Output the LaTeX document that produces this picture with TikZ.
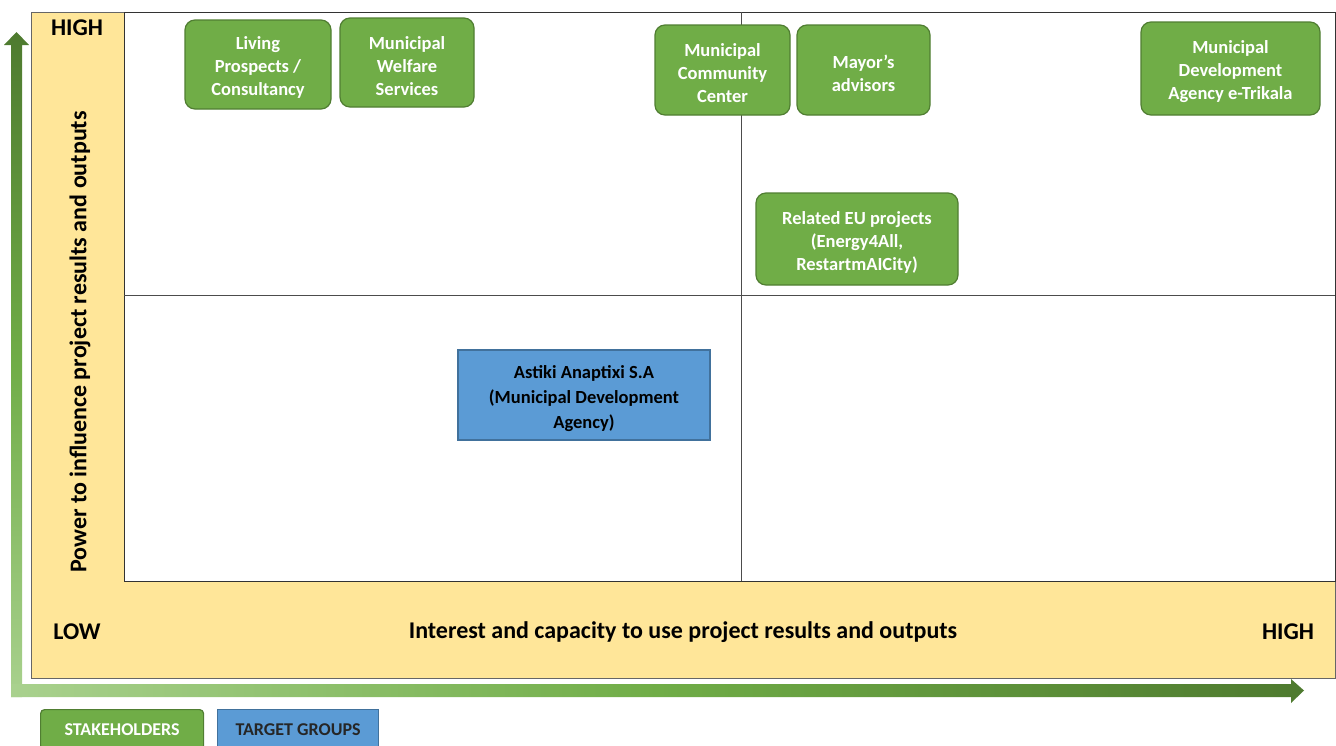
\documentclass[tikz,border=0pt]{standalone}
\usepackage{fontspec}
\setmainfont{Carlito}
\definecolor{panel}{HTML}{FFE699}
\definecolor{gfill}{HTML}{70AD47}
\definecolor{gdraw}{HTML}{507E32}
\definecolor{bfill}{HTML}{5B9BD5}
\definecolor{bdraw}{HTML}{41719C}
\definecolor{darkg}{HTML}{4E7A2F}
\definecolor{lightg}{HTML}{A9D18E}
\newcommand{\gtop}{\rule{0pt}{19.5pt}}
\newcommand{\btop}{\rule{0pt}{20pt}}
\begin{document}
\begin{tikzpicture}[x=1pt,y=-1pt,
  gbox/.style={draw=gdraw, line width=1.2pt, fill=gfill, rounded corners=10pt, text=white,
    font=\fontsize{18.5}{23}\selectfont\bfseries, align=center, inner sep=0pt},
  bbox/.style={draw=bdraw, line width=1.2pt, fill=bfill, text=black,
    font=\fontsize{18.5}{25}\selectfont\bfseries, align=center, inner sep=0pt},
  axlabel/.style={font=\fontsize{24}{26}\selectfont\bfseries, text=black},
  legend/.style={font=\fontsize{18}{20}\selectfont\bfseries, inner sep=0pt}]
\useasboundingbox (0,0) rectangle (1336,745);
% panel
\draw[draw=black!60, line width=1pt, fill=panel] (31,12) rectangle (1335,678);
\draw[draw=black!80, line width=0.8pt, fill=white] (124,12) rectangle (1335,581);
\draw[black!70, line width=0.8pt] (741,12) -- (741,581);
\draw[black!70, line width=0.8pt] (124,295) -- (1335,295);
% axes arrows
\shade[top color=darkg, bottom color=lightg, middle color=gfill]
  (11,697) -- (11,45) -- (4,45) -- (16.5,32) -- (29,45) -- (22,45) -- (22,697) -- cycle;
\shade[left color=lightg, right color=darkg, middle color=gfill]
  (11,684) -- (1291,684) -- (1291,679) -- (1304,690.5) -- (1291,703) -- (1291,697) -- (11,697) -- cycle;
% axis labels
\node[axlabel] (yhigh) at (77,28) {HIGH};
\node[axlabel] (ylow) at (77,632) {LOW};
\node[axlabel] (xhigh) at (1288,632) {HIGH};
\node[axlabel] (xlabel) at (683,632) {Interest and capacity to use project results and outputs};
\node[axlabel, rotate=90] (ylabel) at (80,342) {Power to influence project results and outputs};
% stakeholders
\node[gbox, minimum width=146pt, minimum height=89pt] (living) at (258,64.5) {\gtop Living\\Prospects /\\Consultancy};
\node[gbox, minimum width=134pt, minimum height=89pt] (welfare) at (407,62.5) {\gtop Municipal\\Welfare\\Services};
\node[gbox, minimum width=135pt, minimum height=90pt] (community) at (722.5,70) {\gtop Municipal\\Community\\Center};
\node[gbox, minimum width=133pt, minimum height=90pt] (mayor) at (863.5,70) {\gtop Mayor’s\\advisors};
\node[gbox, minimum width=179pt, minimum height=93pt] (etrikala) at (1230.5,68.5) {\gtop Municipal\\Development\\Agency e-Trikala};
\node[gbox, minimum width=202pt, minimum height=92pt] (eu) at (857,239) {\gtop Related EU projects\\(Energy4All,\\RestartmAICity)};
% target group
\node[bbox, minimum width=252pt, minimum height=90pt] (astiki) at (584,395) {\btop Astiki Anaptixi S.A\\(Municipal Development\\Agency)};
% legend
\node[legend, draw=gdraw, line width=1.2pt, fill=gfill, text=white, rounded corners=4pt,
  minimum width=163pt, minimum height=40pt, anchor=north west] (lstake) at (40,709) {STAKEHOLDERS};
\node[legend, draw=bdraw, line width=1.2pt, fill=bfill, text=black!85,
  minimum width=161pt, minimum height=40pt, anchor=north west] (ltarget) at (217,709) {TARGET GROUPS};
\end{tikzpicture}
\end{document}
